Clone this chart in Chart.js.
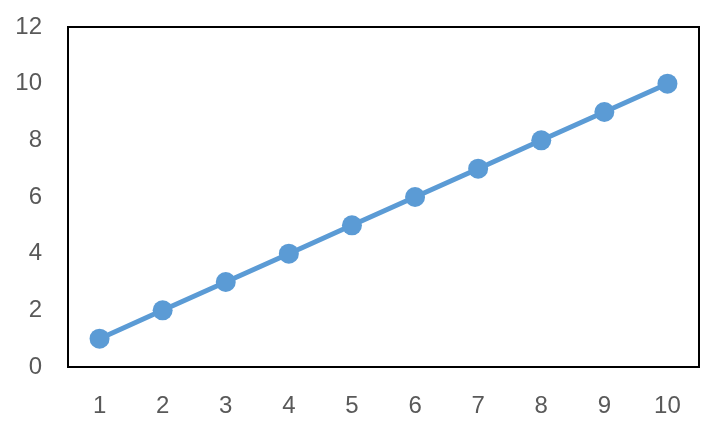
<!DOCTYPE html>
<html>
<head>
<meta charset="utf-8">
<script src="https://cdn.jsdelivr.net/npm/chart.js@4"></script>
<style>
  html, body { margin: 0; padding: 0; background: #fff; }
  #wrap { width: 720px; height: 432px; }
</style>
</head>
<body>
<div id="wrap"><canvas id="myChart" width="720" height="432"></canvas></div>
<script>
'use strict';

// data
let categories = ['1', '2', '3', '4', '5', '6', '7', '8', '9', '10'];
let values = [1, 2, 3, 4, 5, 6, 7, 8, 9, 10];
let yTicks = [0, 2, 4, 6, 8, 10, 12];

// box round the plot area
const frame = {
  id: 'frame',
  afterDraw(chart) {
    const a = chart.chartArea;
    const ctx = chart.ctx;
    ctx.save();
    ctx.strokeStyle = '#000';
    ctx.lineWidth = 2;
    ctx.strokeRect(a.left, a.top, a.right - a.left, a.bottom - a.top);
    ctx.restore();
  }
};

let config = {
  type: 'line',
  data: {
    labels: categories,
    datasets: [{
      data: values,
      borderColor: '#5b9bd5',
      backgroundColor: '#5b9bd5',
      borderWidth: 5,
      pointRadius: 10,
      pointHoverRadius: 10,
      pointBorderWidth: 0,
      tension: 0
    }]
  },
  options: {
    responsive: false,
    animation: false,
    layout: { padding: { top: 27, right: 21, left: 0, bottom: 0 } },
    plugins: { legend: { display: false }, tooltip: { enabled: false } },
    scales: {
      x: {
        offset: true,
        grid: { display: false, drawTicks: false },
        border: { display: false },
        ticks: { padding: 25, color: '#595959', font: { family: 'Liberation Sans', size: 24 } },
        afterFit: s => { s.height = 65; s.paddingLeft = 0; s.paddingRight = 0; }
      },
      y: {
        min: yTicks[0],
        max: yTicks[yTicks.length - 1],
        afterBuildTicks: s => { s.ticks = yTicks.map(v => ({ value: v })); },
        grid: { display: false, drawTicks: false },
        border: { display: false },
        ticks: { padding: 26, color: '#595959', font: { family: 'Liberation Sans', size: 24 } },
        afterFit: s => { s.width = 68; s.paddingTop = 0; s.paddingBottom = 0; }
      }
    }
  },
  plugins: [frame]
};

const ctx = document.getElementById('myChart').getContext('2d');
const myChart = new Chart(ctx, config);
</script>
</body>
</html>
